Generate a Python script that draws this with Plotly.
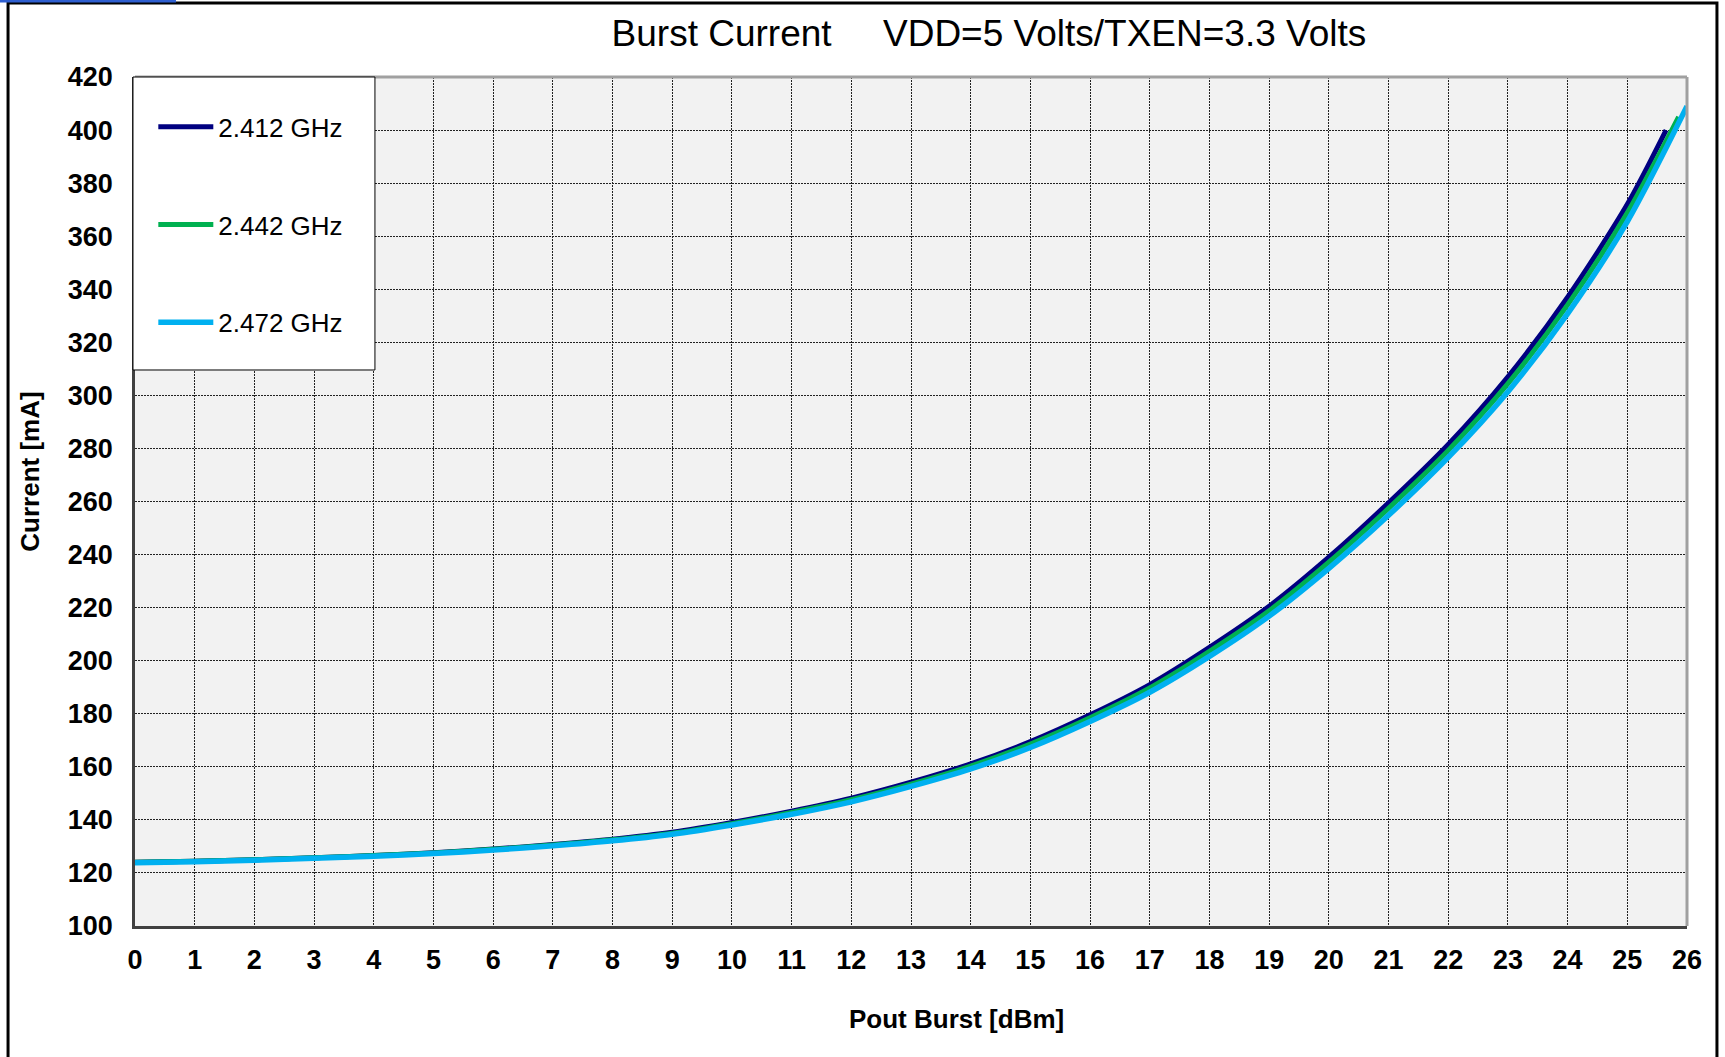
import plotly.graph_objects as go

# ---- data ----
pout_2412 = [0, 1, 2, 3, 4, 5, 6, 7, 8, 9, 10, 11, 12, 13, 14, 15, 16, 17, 18, 19, 20, 21, 22, 23, 24, 25, 25.65]
curr_2412 = [124.0, 124.4, 125.0, 125.7, 126.6, 127.6, 129.0, 130.7, 132.7, 135.3, 139.0, 143.3, 148.2, 154.2,
             161.1, 169.5, 179.6, 191.0, 205.0, 220.5, 239.0, 259.5, 281.5, 307.0, 337.0, 372.0, 400.0]

pout_2442 = [0, 1, 2, 3, 4, 5, 6, 7, 8, 9, 10, 11, 12, 13, 14, 15, 16, 17, 18, 19, 20, 21, 22, 23, 24, 25, 25.86]
curr_2442 = [124.0, 124.4, 125.0, 125.7, 126.6, 127.5, 128.9, 130.5, 132.5, 135.0, 138.6, 142.8, 147.6, 153.5,
             160.3, 168.6, 178.5, 189.7, 203.5, 218.8, 237.1, 257.4, 279.2, 304.4, 334.1, 368.8, 405.0]

pout_2472 = [0, 1, 2, 3, 4, 5, 6, 7, 8, 9, 10, 11, 12, 13, 14, 15, 16, 17, 18, 19, 20, 21, 22, 23, 24, 25, 26]
curr_2472 = [123.8, 124.2, 124.8, 125.5, 126.3, 127.3, 128.6, 130.2, 132.1, 134.6, 138.1, 142.1, 146.8, 152.6,
             159.2, 167.3, 177.1, 188.1, 201.6, 216.8, 234.8, 254.8, 276.6, 301.4, 330.8, 365.5, 409.0]

series_names = ["2.412 GHz", "2.442 GHz", "2.472 GHz"]
series_colors = ["#000080", "#00B050", "#00B0F0"]
series_widths = [5, 5, 5.5]

x_ticks = list(range(0, 27))
y_ticks = list(range(100, 421, 20))

title_text = "Burst Current\u00a0\u00a0\u00a0\u00a0 VDD=5 Volts/TXEN=3.3 Volts"
x_title = "Pout Burst [dBm]"
y_title = "Current [mA]"

FONT = "Liberation Sans, Arial, sans-serif"

fig = go.Figure()
for i, (xs, ys) in enumerate([(pout_2412, curr_2412), (pout_2442, curr_2442), (pout_2472, curr_2472)]):
    fig.add_trace(go.Scatter(
        x=xs, y=ys, mode="lines", name=series_names[i],
        legendgroup=f"g{i}",
        line=dict(color=series_colors[i], width=series_widths[i], shape="spline", smoothing=0.8),
    ))

fig.update_layout(
    width=1725, height=1057,
    margin=dict(l=135, r=38, t=77, b=131),
    paper_bgcolor="white",
    plot_bgcolor="#F2F2F2",
    font=dict(family=FONT, color="black"),
    title=dict(text=title_text, x=0.5733, xref="container", xanchor="center",
               y=1 - 33 / 1057, yref="container", yanchor="middle",
               font=dict(family=FONT, size=37, color="black")),
    showlegend=True,
    legend=dict(x=0.0118, y=0.969, xanchor="left", yanchor="top",
                bgcolor="rgba(0,0,0,0)", borderwidth=0,
                font=dict(family=FONT, size=26, color="black"),
                tracegroupgap=61, itemwidth=55),
)

fig.update_xaxes(
    range=[0, 26], tickmode="array", tickvals=x_ticks, ticktext=[str(v) for v in x_ticks],
    showgrid=True, gridcolor="#222222", gridwidth=1, griddash="2px,1px",
    showline=True, linecolor="#404040", linewidth=2.5,
    ticks="", ticklabelstandoff=8,
    tickfont=dict(family=FONT, size=27, weight="bold", color="black"),
    zeroline=False,
)
fig.update_yaxes(
    range=[100, 420], tickmode="array", tickvals=y_ticks, ticktext=[str(v) for v in y_ticks],
    showgrid=True, gridcolor="#222222", gridwidth=1, griddash="2px,1px",
    showline=True, linecolor="#404040", linewidth=2.5,
    ticks="", ticklabelstandoff=14,
    tickfont=dict(family=FONT, size=27, weight="bold", color="black"),
    zeroline=False,
)

# axis titles (placed as in the reference, off-centre)
fig.add_annotation(text=x_title, xref="paper", yref="paper", x=0.5296, y=-0.110,
                   xanchor="center", yanchor="middle", showarrow=False,
                   font=dict(family=FONT, size=26, weight="bold", color="black"))
fig.add_annotation(text=y_title, xref="paper", yref="paper", x=-0.0677, y=0.535,
                   xanchor="center", yanchor="middle", showarrow=False, textangle=-90,
                   font=dict(family=FONT, size=26, weight="bold", color="black"))

shapes = [
    # top & right border of plot area (gray)
    dict(type="line", xref="paper", yref="paper", x0=0, x1=1, y0=1, y1=1,
         line=dict(color="#A0A0A0", width=3), layer="above"),
    dict(type="line", xref="paper", yref="paper", x0=1, x1=1, y0=0, y1=1,
         line=dict(color="#A0A0A0", width=3), layer="above"),
    # legend box
    dict(type="rect", xref="paper", yref="paper", x0=-0.0013, x1=0.1546, y0=0.6549, y1=1.0,
         fillcolor="white", line=dict(color="black", width=1), layer="above"),
    # outer chart frame
    dict(type="rect", xref="paper", yref="paper", x0=-0.0818, x1=1.0193, y0=-0.2, y1=1.0872,
         fillcolor="rgba(0,0,0,0)", line=dict(color="black", width=3), layer="above"),
    # small blue bar at top-left
    dict(type="rect", xref="paper", yref="paper", x0=-0.09, x1=0.0264, y0=1.0877, y1=1.0915,
         fillcolor="#2F5FD0", line=dict(width=0), layer="above"),
]
fig.update_layout(shapes=shapes)

fig.write_html("out.html", config={"displayModeBar": False},
               post_script="document.body.style.margin='0';document.body.style.overflow='hidden';")
